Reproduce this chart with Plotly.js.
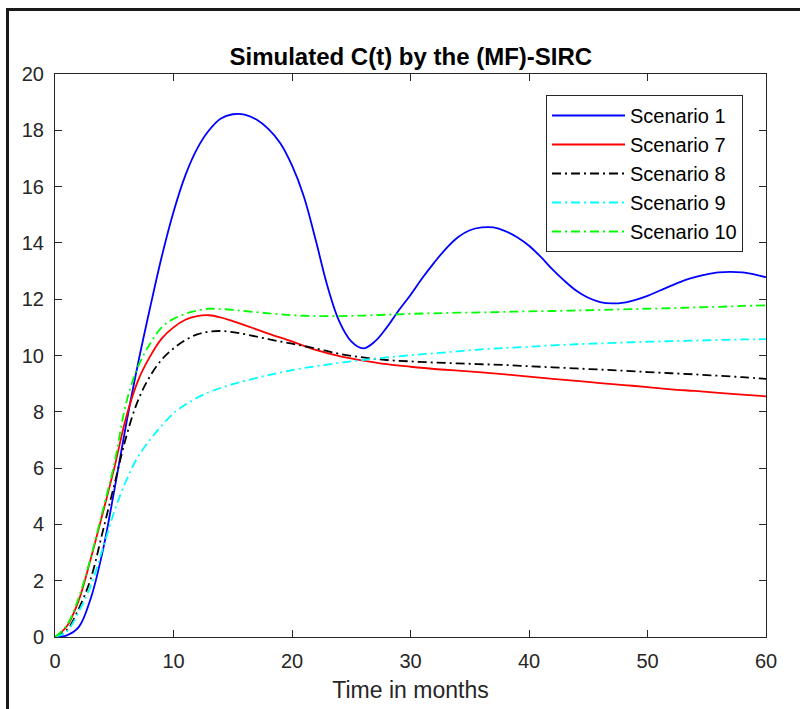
<!DOCTYPE html>
<html>
<head>
<meta charset="utf-8">
<script src="https://cdn.plot.ly/plotly-3.0.1.min.js"></script>
<style>
  html, body { margin: 0; padding: 0; background: #fff; }
  #wrap { position: relative; width: 800px; height: 709px; overflow: hidden; }
  #chart { width: 800px; height: 709px; }
  #frame { position: absolute; left: 6px; top: 8px; width: 820px; height: 720px;
           border-left: 3px solid #1a1a1a; border-top: 3px solid #1a1a1a; pointer-events: none; }
</style>
</head>
<body>
<div id="wrap">
  <div id="chart"></div>
  <div id="frame"></div>
</div>
<script>
// Scenario 1 (blue, solid)
const t1 = [0,1,2,3,4,5,6,7,8,9,10,11,12,13,14,15,16,17,18,19,20,21,22,23,24,25,26,27,28,29,30,31,32,33,34,35,36,37,38,39,40,41,42,43,44,45,46,47,48,49,50,51,52,53,54,55,56,57,58,59,60];
const c1 = [0,0.06,0.35,1.35,3.0,5.2,7.55,9.7,11.65,13.5,15.1,16.4,17.35,18.0,18.42,18.57,18.56,18.38,18.05,17.55,16.75,15.65,14.1,12.45,11.2,10.5,10.25,10.5,11.0,11.6,12.15,12.75,13.3,13.8,14.2,14.45,14.55,14.55,14.42,14.2,13.9,13.5,13.05,12.65,12.3,12.05,11.9,11.85,11.88,11.98,12.12,12.3,12.48,12.65,12.78,12.88,12.95,12.97,12.95,12.88,12.78];
// Scenario 7 (red, solid)
const t7 = [0,1,2,3,4,5,6,7,8,9,10,11,12,13,14,15,16,17,18,20,22,24,26,28,30,32,34,36,38,40,42,44,46,48,50,52,54,56,58,60];
const c7 = [0,0.38,1.3,2.75,4.35,6.0,7.8,9.1,9.95,10.6,11.0,11.27,11.4,11.43,11.35,11.22,11.08,10.93,10.78,10.5,10.2,9.98,9.82,9.69,9.6,9.52,9.46,9.4,9.33,9.25,9.17,9.1,9.02,8.95,8.88,8.8,8.74,8.67,8.61,8.55];
// Scenario 8 (black, dash-dot)
const t8 = [0,1,2,3,4,5,6,7,8,9,10,11,12,13,14,15,16,18,20,22,24,26,28,30,32,34,36,38,40,42,44,46,48,50,52,54,56,58,60];
const c8 = [0,0.25,1.0,2.05,3.7,5.4,7.1,8.4,9.25,9.85,10.25,10.55,10.75,10.85,10.87,10.83,10.76,10.58,10.42,10.25,10.06,9.93,9.84,9.79,9.75,9.72,9.69,9.66,9.62,9.58,9.54,9.5,9.46,9.41,9.37,9.33,9.28,9.23,9.17];
// Scenario 9 (cyan, dash-dot)
const t9 = [0,1,2,3,4,5,6,7,8,9,10,11,12,13,14,15,16,18,20,22,24,26,28,30,32,34,36,38,40,42,44,46,48,50,52,54,56,58,60];
const c9 = [0,0.2,0.9,1.8,3.1,4.45,5.55,6.4,7.0,7.5,7.95,8.25,8.5,8.7,8.85,8.98,9.1,9.3,9.48,9.62,9.74,9.84,9.93,10.01,10.08,10.15,10.22,10.27,10.31,10.36,10.4,10.43,10.46,10.49,10.51,10.53,10.55,10.57,10.58];
// Scenario 10 (green, dash-dot)
const t10 = [0,1,2,3,4,5,6,7,8,9,10,11,12,13,14,15,16,18,20,22,24,26,28,30,32,34,36,38,40,42,44,46,48,50,52,54,56,58,60];
const c10 = [0,0.42,1.4,2.8,4.45,6.15,8.3,9.6,10.4,11.0,11.3,11.48,11.6,11.66,11.65,11.62,11.58,11.5,11.43,11.4,11.4,11.42,11.45,11.48,11.5,11.52,11.53,11.55,11.57,11.58,11.6,11.62,11.64,11.66,11.68,11.71,11.73,11.76,11.78];

const names = ['Scenario 1', 'Scenario 7', 'Scenario 8', 'Scenario 9', 'Scenario 10'];
const xTicks = [0, 10, 20, 30, 40, 50, 60];
const yTicks = [0, 2, 4, 6, 8, 10, 12, 14, 16, 18, 20];

const dd = '9px,4px,2px,4px';
function tr(x, y, name, color, dash) {
  return { x: x, y: y, name: name, type: 'scatter', mode: 'lines',
           line: { color: color, width: 1.8, dash: dash, shape: 'spline', smoothing: 1 } };
}
const data = [
  tr(t1, c1, names[0], '#0000ff', 'solid'),
  tr(t7, c7, names[1], '#ff0000', 'solid'),
  tr(t8, c8, names[2], '#000000', dd),
  tr(t9, c9, names[3], '#00ffff', dd),
  tr(t10, c10, names[4], '#00ff00', dd)
];

const axCommon = {
  showgrid: false, zeroline: false, showline: true, mirror: 'ticks',
  linecolor: '#262626', linewidth: 1, ticks: 'inside', ticklen: 7,
  tickcolor: '#262626', tickwidth: 1,
  tickfont: { family: 'Liberation Sans, Arial, sans-serif', size: 20, color: '#262626' }
};

const layout = {
  width: 800, height: 709,
  margin: { l: 55, r: 34, t: 74, b: 72 },
  paper_bgcolor: '#ffffff', plot_bgcolor: '#ffffff',
  font: { family: 'Liberation Sans, Arial, sans-serif', color: '#262626' },
  title: { text: '<b>Simulated C(t) by the (MF)-SIRC</b>', x: 0.5135, xanchor: 'center',
           y: 1 - 57 / 709, yanchor: 'middle', yref: 'container',
           font: { family: 'Liberation Sans, Arial, sans-serif', size: 24, color: '#000000' } },
  xaxis: Object.assign({}, axCommon, {
    range: [0, 60], tickvals: xTicks, ticktext: xTicks.map(String), ticklabelstandoff: 6,
    title: { text: 'Time in months', standoff: 10,
             font: { family: 'Liberation Sans, Arial, sans-serif', size: 23, color: '#262626' } }
  }),
  yaxis: Object.assign({}, axCommon, {
    range: [0, 20], tickvals: yTicks, ticktext: yTicks.map(String), ticklabelstandoff: 6
  }),
  showlegend: true,
  legend: {
    x: (546 - 55) / 711, xanchor: 'left', y: (637 - 95) / 563, yanchor: 'top',
    bgcolor: '#ffffff', bordercolor: '#262626', borderwidth: 1,
    font: { family: 'Liberation Sans, Arial, sans-serif', size: 20, color: '#000000' },
    tracegroupgap: 0, itemwidth: 73
  }
};

Plotly.newPlot('chart', data, layout, { displayModeBar: false, staticPlot: true });
</script>
</body>
</html>
